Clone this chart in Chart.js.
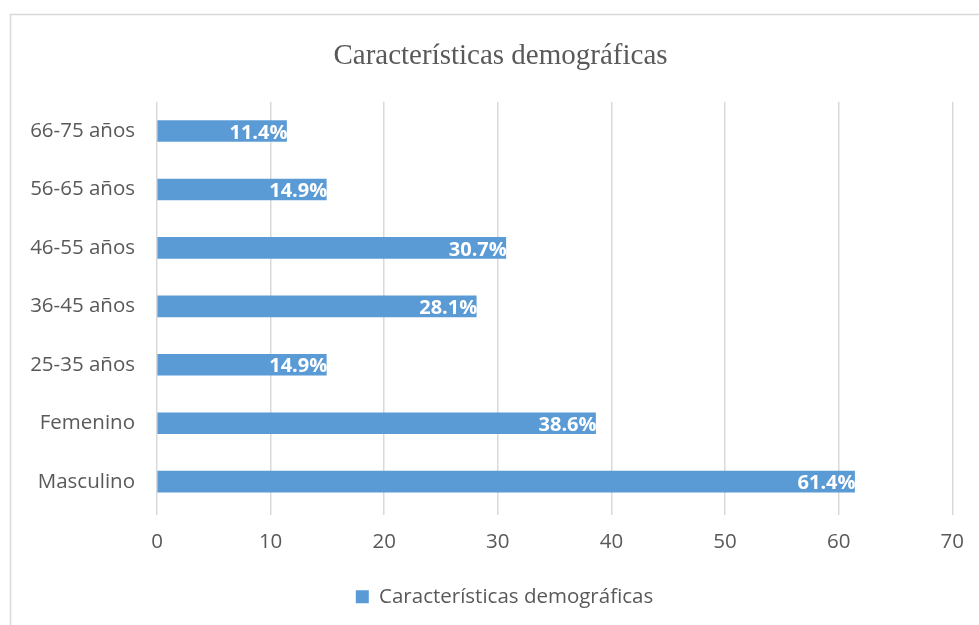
<!DOCTYPE html>
<html>
<head>
<meta charset="utf-8">
<script src="https://cdn.jsdelivr.net/npm/chart.js@4.4.1/dist/chart.umd.min.js"></script>
<style>
  html, body { margin: 0; padding: 0; background: #ffffff; }
  #wrap { width: 979px; height: 625px; position: relative; }
</style>
</head>
<body>
<div id="wrap"><canvas id="c" width="979" height="625"></canvas></div>
<script>
const categories = ["66-75 años", "56-65 años", "46-55 años", "36-45 años", "25-35 años", "Femenino", "Masculino"];
const values = [11.4, 14.9, 30.7, 28.1, 14.9, 38.6, 61.4];
const valueLabels = ["11.4%", "14.9%", "30.7%", "28.1%", "14.9%", "38.6%", "61.4%"];
const xTicks = [0, 10, 20, 30, 40, 50, 60, 70];
const seriesName = "Características demográficas";
const chartTitle = "Características demográficas";

const frame = {
  id: 'frame',
  beforeDraw(chart) {
    const ctx = chart.ctx;
    ctx.save();
    ctx.fillStyle = '#ffffff';
    ctx.fillRect(0, 0, chart.width, chart.height);
    ctx.strokeStyle = '#d9d9d9';
    ctx.lineWidth = 1.5;
    ctx.strokeRect(10.5, 14.5, 1200, 800);
    ctx.restore();
  }
};

// shift title and legend boxes slightly right (the reference centres them on the frame)
const centerShift = {
  id: 'centerShift',
  afterLayout(chart) {
    if (chart.titleBlock) { chart.titleBlock.left += 14; chart.titleBlock.right += 14; }
    if (chart.legend) { chart.legend.left += 18; chart.legend.right += 18; }
  }
};

const dataLabels = {
  id: 'dataLabels',
  afterDatasetsDraw(chart) {
    const ctx = chart.ctx;
    const meta = chart.getDatasetMeta(0);
    ctx.save();
    ctx.font = 'bold 20px "Open Sans"';
    ctx.fillStyle = '#ffffff';
    ctx.textAlign = 'right';
    ctx.textBaseline = 'middle';
    meta.data.forEach((bar, i) => {
      ctx.fillText(valueLabels[i], bar.x + 1, bar.y + 2);
    });
    ctx.restore();
  }
};

new Chart(document.getElementById('c'), {
  type: 'bar',
  data: {
    labels: categories,
    datasets: [{
      label: seriesName,
      data: values,
      backgroundColor: '#5b9bd5',
      borderWidth: 0,
      barThickness: 21
    }]
  },
  options: {
    indexAxis: 'y',
    responsive: false,
    animation: false,
    layout: { padding: { left: 20, right: 26, top: 0, bottom: 8 } },
    scales: {
      x: {
        min: 0, max: 70,
        afterBuildTicks(scale) { scale.ticks = xTicks.map(v => ({ value: v })); },
        grid: { color: '#d9d9d9', lineWidth: 1.5, drawTicks: true, tickLength: 4, tickColor: '#d9d9d9' },
        border: { display: false },
        ticks: { color: '#595959', font: { family: '"Open Sans"', size: 20.5 }, padding: 15 }
      },
      y: {
        grid: { display: false },
        border: { display: false },
        ticks: { color: '#595959', font: { family: '"Open Sans"', size: 20.5 }, padding: 14 },
        afterFit(scale) { scale.width = 137; }
      }
    },
    plugins: {
      title: {
        display: true,
        text: chartTitle,
        color: '#595959',
        font: { family: '"Liberation Serif"', size: 29, weight: 'normal' },
        padding: { top: 39, bottom: 28 }
      },
      legend: {
        position: 'bottom',
        labels: {
          color: '#595959',
          font: { family: '"Open Sans"', size: 20.5 },
          boxWidth: 13, boxHeight: 13,
          padding: 17
        }
      },
      tooltip: { enabled: false }
    }
  },
  plugins: [frame, centerShift, dataLabels]
});
</script>
</body>
</html>
